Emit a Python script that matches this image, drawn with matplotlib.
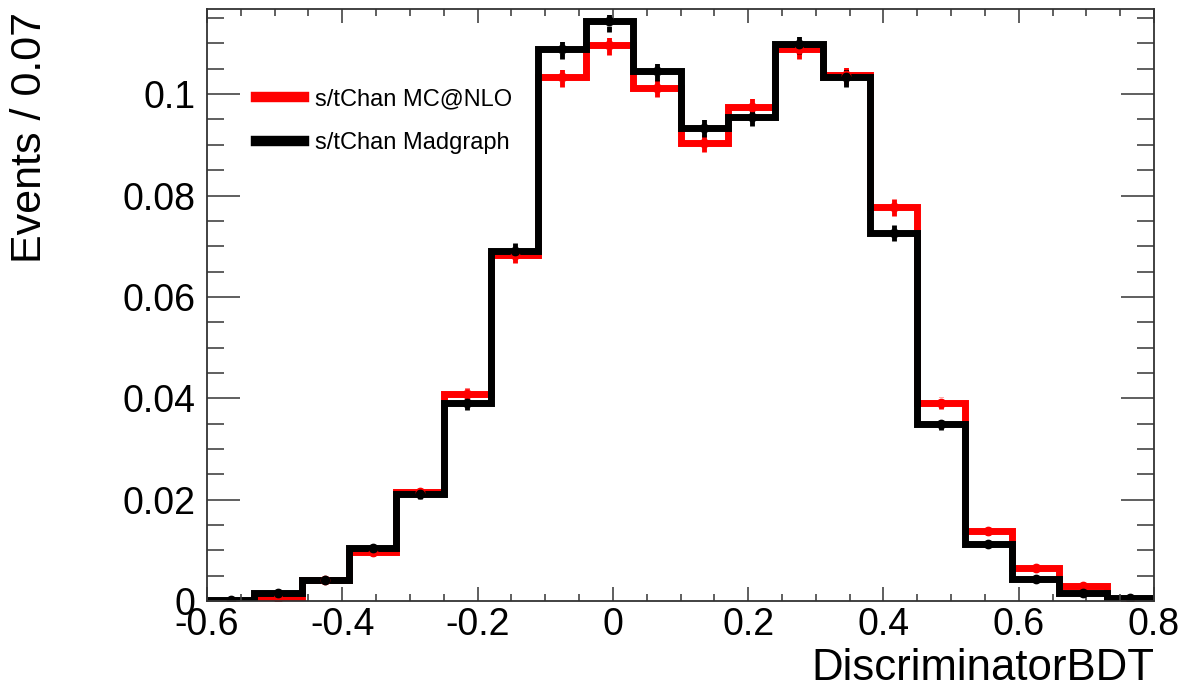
import numpy as np
import matplotlib
matplotlib.use("Agg")
import matplotlib.pyplot as plt
from matplotlib.lines import Line2D
from matplotlib.ticker import MultipleLocator

plt.rcParams["font.family"] = ["Liberation Sans", "DejaVu Sans"]

# bin edges of DiscriminatorBDT (width 0.07)
edges = np.round(np.arange(-0.6, 0.8001, 0.07), 3)

# s/tChan MC@NLO
mcnlo = [0.0001, 0.0006, 0.0041, 0.0097, 0.0215, 0.0408, 0.0683, 0.1034, 0.1097, 0.1012,
         0.0903, 0.0974, 0.1089, 0.1037, 0.0777, 0.0390, 0.0138, 0.0065, 0.0030, 0.0001]
mcnlo_err = [0.0001, 0.0003, 0.0006, 0.0008, 0.0010, 0.0013, 0.0016, 0.0019, 0.0019, 0.0018,
             0.0018, 0.0018, 0.0019, 0.0018, 0.0017, 0.0012, 0.0007, 0.0005, 0.0003, 0.0001]

# s/tChan Madgraph
madgraph = [0.0003, 0.0016, 0.0041, 0.0104, 0.0211, 0.0390, 0.0690, 0.1089, 0.1144, 0.1045,
            0.0933, 0.0955, 0.1099, 0.1033, 0.0726, 0.0349, 0.0112, 0.0043, 0.0016, 0.0006]
madgraph_err = [0.0002, 0.0003, 0.0005, 0.0008, 0.0010, 0.0013, 0.0016, 0.0020, 0.0021, 0.0019,
                0.0018, 0.0018, 0.0019, 0.0018, 0.0016, 0.0011, 0.0006, 0.0004, 0.0002, 0.0001]

centers = 0.5 * (edges[:-1] + edges[1:])

fig = plt.figure(figsize=(11.8, 6.91), dpi=100)
ax = fig.add_axes([0.1754, 0.1302, 0.8026, 0.8568])

# histograms (red first, black on top)
for vals, errs, col in [(mcnlo, mcnlo_err, "#ff0000"), (madgraph, madgraph_err, "black")]:
    ax.stairs(vals, edges, color=col, lw=5, baseline=None)
    eb = ax.errorbar(centers, vals, yerr=errs, fmt="o", color=col, ms=6,
                     elinewidth=3.5, capsize=0)
    eb[2][0].set_linestyle((0, (1.2, 1.2)))

ax.set_xlim(-0.6, 0.8)
ax.set_ylim(0, 0.1168)

ax.xaxis.set_major_locator(MultipleLocator(0.2))
ax.xaxis.set_minor_locator(MultipleLocator(0.05))
ax.yaxis.set_major_locator(MultipleLocator(0.02))
ax.yaxis.set_minor_locator(MultipleLocator(0.005))
ax.xaxis.set_major_formatter(plt.FuncFormatter(lambda v, p: "%g" % round(v, 2)))
ax.yaxis.set_major_formatter(plt.FuncFormatter(lambda v, p: "%g" % round(v, 3)))

ax.tick_params(axis="both", which="both", direction="in", top=True, right=True,
               color="#444444", width=1.2, labelsize=27)
ax.tick_params(axis="y", which="major", length=24, pad=8)
ax.tick_params(axis="y", which="minor", length=12)
ax.tick_params(axis="x", which="major", length=10, pad=4)
ax.tick_params(axis="x", which="minor", length=5)
for sp in ax.spines.values():
    sp.set_linewidth(1.3)
    sp.set_color("#333333")

ax.set_xlabel("DiscriminatorBDT", fontsize=31.5, loc="right", labelpad=4)
ax.set_ylabel("Events / 0.07", fontsize=31, loc="top")
ax.yaxis.set_label_coords(-0.166, 0.995)

handles = [Line2D([], [], color="#ff0000", lw=7.5),
           Line2D([], [], color="black", lw=7.5)]
ax.legend(handles, ["s/tChan MC@NLO", "s/tChan Madgraph"], loc="upper left",
          bbox_to_anchor=(0.0517, 0.866), frameon=False, fontsize=17,
          borderpad=0, borderaxespad=0, handlelength=2.05, handletextpad=0.45,
          labelspacing=0.92)

fig.savefig("out.png", dpi=100)
